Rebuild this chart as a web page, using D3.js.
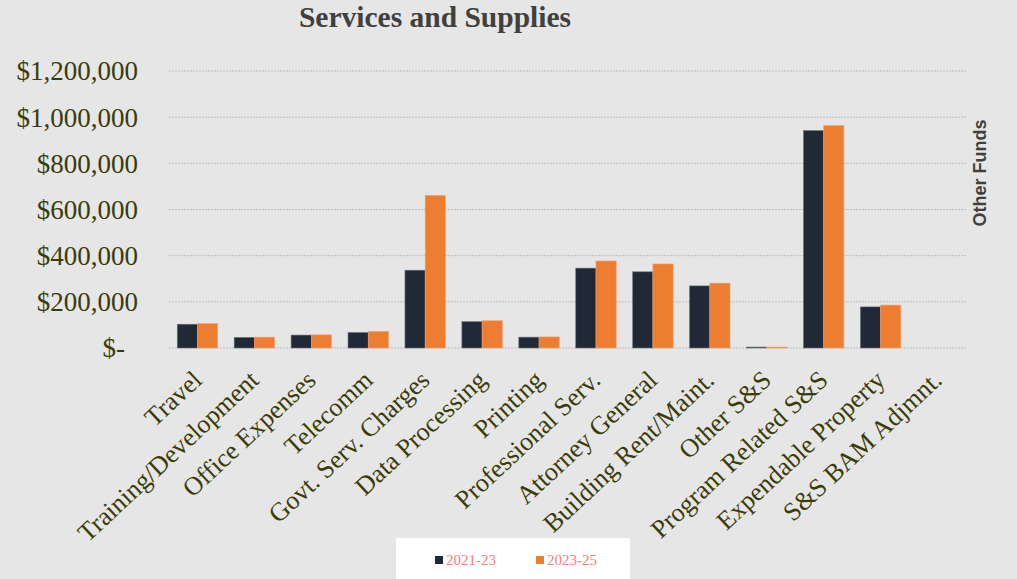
<!DOCTYPE html>
<html>
<head>
<meta charset="utf-8">
<script src="https://cdn.jsdelivr.net/npm/d3@7"></script>
<style>
  html, body { margin: 0; padding: 0; background: #e6e6e6; }
  svg { display: block; }
</style>
</head>
<body>
<svg id="chart" width="1017" height="579"></svg>
<script>
// Services and Supplies spending by category, two biennia
const categories = [
  "Travel", "Training/Development", "Office Expenses", "Telecomm",
  "Govt. Serv. Charges", "Data Processing", "Printing", "Professional Serv.",
  "Attorney General", "Building Rent/Maint.", "Other S&S",
  "Program Related S&S", "Expendable Property", "S&S BAM Adjmnt."
];
const seriesNames = ["2021-23", "2023-25"];
const values2021 = [103000, 46000, 56000, 67000, 337000, 114000, 47000, 346000, 330000, 269000, 4000, 942000, 178000, 0];
const values2023 = [106000, 47000, 57000, 72000, 661000, 118000, 48000, 377000, 364000, 281000, 4000, 964000, 186000, 0];
const yTicks = [0, 200000, 400000, 600000, 800000, 1000000, 1200000];
const colors = ["#222936", "#ed7d31"];

const svg = d3.select("#chart");
const W = 1017, H = 579;
const m = { left: 169, right: 51, top: 71, bottom: 231 };
const plotW = W - m.left - m.right;
const plotH = H - m.top - m.bottom;
const serif = "'Liberation Serif', 'Times New Roman', serif";

svg.append("rect").attr("width", W).attr("height", H).attr("fill", "#e6e6e6");

const x = d3.scaleBand().domain(categories).range([m.left, m.left + plotW]).paddingInner(0.29).paddingOuter(0.145);
const xs = d3.scaleBand().domain(seriesNames).range([0, x.bandwidth()]);
const y = d3.scaleLinear().domain([0, 1200000]).range([m.top + plotH, m.top]);

// gridlines
svg.append("g").selectAll("line").data(yTicks).join("line")
  .attr("x1", m.left).attr("x2", m.left + plotW)
  .attr("y1", d => y(d)).attr("y2", d => y(d))
  .attr("stroke", "#bdbdbd").attr("stroke-width", 1)
  .attr("stroke-dasharray", "2,1");

// y axis labels
const yAxis = d3.axisLeft(y).tickValues(yTicks).tickSize(0).tickPadding(0)
  .tickFormat(d => d === 0 ? "$-" : "$" + d3.format(",")(d));
const gy = svg.append("g").attr("transform", `translate(${m.left - 31},0)`).call(yAxis);
gy.select(".domain").remove();
gy.selectAll("text")
  .attr("font-family", serif)
  .attr("font-size", 27).attr("fill", "#3b3b0a")
  .attr("dy", "0.33em")
  .attr("dx", d => d === 0 ? -13 : 0);

// bars
const rows = categories.map((c, i) => ({ c, vals: [values2021[i], values2023[i]] }));
const groups = svg.append("g").selectAll("g").data(rows).join("g")
  .attr("transform", d => `translate(${x(d.c)},0)`);
groups.selectAll("rect").data(d => d.vals.map((v, k) => ({ v, k })))
  .join("rect")
  .attr("x", d => xs(seriesNames[d.k]))
  .attr("width", xs.bandwidth())
  .attr("y", d => y(d.v))
  .attr("height", d => y(0) - y(d.v))
  .attr("fill", d => colors[d.k])
  .attr("stroke", d => d.v > 0 ? (d.k === 0 ? "#6b707a" : "#f2a070") : "none")
  .attr("stroke-width", 0.6);

// x axis labels, rotated
const xAxis = d3.axisBottom(x).tickSize(0).tickPadding(0);
const gx = svg.append("g").attr("transform", `translate(0,${y(0) + 34})`).call(xAxis);
gx.select(".domain").remove();
gx.selectAll("text")
  .attr("font-family", serif)
  .attr("font-size", 26).attr("fill", "#3b3b0a")
  .attr("text-anchor", "end")
  .attr("dy", 0)
  .attr("y", 0)
  .attr("transform", "translate(6,0) rotate(-43)");

// title
svg.append("text")
  .attr("x", 435).attr("y", 27)
  .attr("text-anchor", "middle")
  .attr("font-family", serif)
  .attr("font-weight", "bold").attr("font-size", 29.5)
  .attr("fill", "#404040")
  .text("Services and Supplies");

// side label
svg.append("text")
  .attr("transform", "translate(986,173) rotate(-90)")
  .attr("text-anchor", "middle")
  .attr("font-family", "'Liberation Sans', Arial, sans-serif")
  .attr("font-weight", "bold").attr("font-size", 18)
  .attr("fill", "#404040")
  .text("Other Funds");

// legend
const lg = svg.append("g");
lg.append("rect").attr("x", 396).attr("y", 538).attr("width", 234).attr("height", 41).attr("fill", "#ffffff");
const legendX = [435, 536];
seriesNames.forEach((s, i) => {
  lg.append("rect").attr("x", legendX[i]).attr("y", 556).attr("width", 8).attr("height", 8).attr("fill", colors[i]);
  lg.append("text").attr("x", legendX[i] + 11).attr("y", 565)
    .attr("font-family", serif)
    .attr("font-size", 15).attr("fill", "#f08080")
    .text(s);
});
</script>
</body>
</html>
